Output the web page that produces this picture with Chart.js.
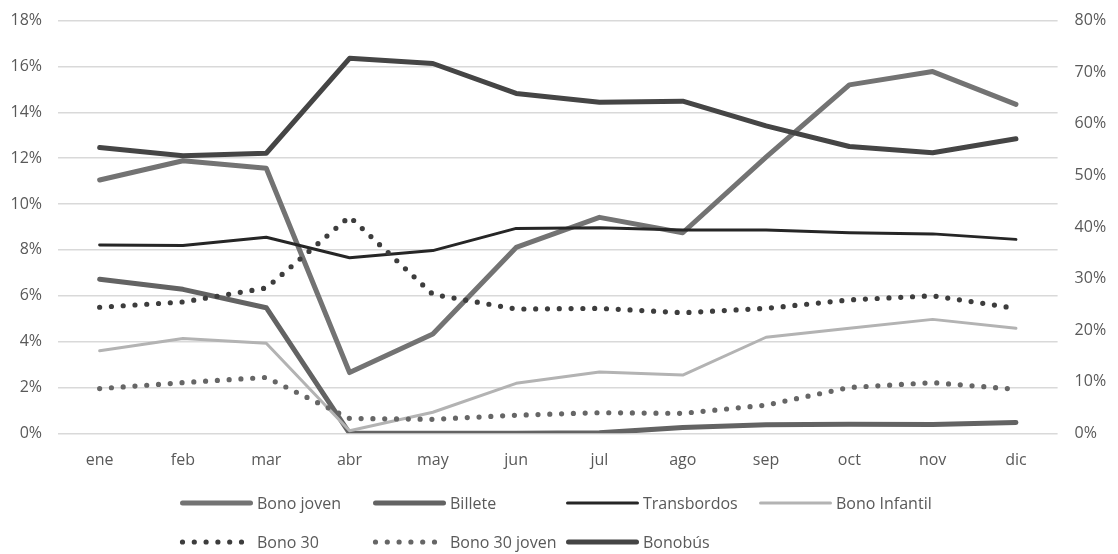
<!DOCTYPE html>
<html>
<head>
<meta charset="utf-8">
<script src="https://cdn.jsdelivr.net/npm/chart.js@4/dist/chart.umd.min.js"></script>
<style>
  html, body { margin: 0; padding: 0; background: #ffffff; }
  #wrap { position: relative; width: 1118px; height: 554px; }
</style>
</head>
<body>
<div id="wrap"><canvas id="chart" width="1118" height="554"></canvas></div>
<script>
// Monthly share of trips by ticket type (%)
const months = ['ene', 'feb', 'mar', 'abr', 'may', 'jun', 'jul', 'ago', 'sep', 'oct', 'nov', 'dic'];

// Left axis (0–18 %)
const bonoJoven    = [11.05, 11.89, 11.56, 2.65, 4.33, 8.11, 9.42, 8.75, 12.05, 15.20, 15.78, 14.35];
const billete      = [6.72, 6.28, 5.48, 0.0, 0.0, 0.0, 0.02, 0.25, 0.37, 0.40, 0.38, 0.47];
const transbordos  = [8.22, 8.19, 8.55, 7.66, 7.97, 8.94, 8.97, 8.87, 8.87, 8.75, 8.70, 8.46];
const bonoInfantil = [3.60, 4.14, 3.93, 0.11, 0.92, 2.18, 2.67, 2.54, 4.19, 4.58, 4.97, 4.58];
const bono30       = [5.50, 5.73, 6.34, 9.45, 6.06, 5.42, 5.45, 5.26, 5.45, 5.82, 6.00, 5.45];
const bono30Joven  = [1.95, 2.21, 2.44, 0.65, 0.61, 0.79, 0.90, 0.87, 1.23, 2.00, 2.21, 1.92];

// Right axis (0–80 %)
const bonobus      = [55.4, 53.8, 54.3, 72.7, 71.7, 65.9, 64.2, 64.4, 59.6, 55.6, 54.4, 57.1];

// Axis ranges
const leftMax = 18, leftStep = 2;
const rightMax = 80, rightStep = 10;

const TEXT = '#595959';
const FONT = '"Open Sans", "Liberation Sans", sans-serif';

function line(label, data, color, width, axis, dotted) {
  return {
    label, data,
    yAxisID: axis,
    borderColor: color,
    backgroundColor: color,
    borderWidth: width,
    borderDash: dotted ? [0, 11.8] : [],
    borderCapStyle: 'round',
    borderJoinStyle: 'round',
    pointRadius: 0,
    pointHoverRadius: 0,
    tension: 0,
    fill: false
  };
}

const datasets = [
  line('Bono joven',    bonoJoven,    '#737373', 5,   'y',  false),
  line('Billete',       billete,      '#636363', 5,   'y',  false),
  line('Transbordos',   transbordos,  '#262626', 3,   'y',  false),
  line('Bono Infantil', bonoInfantil, '#b3b3b3', 3,   'y',  false),
  line('Bono 30',       bono30,       '#3d3d3d', 5.2, 'y',  true),
  line('Bono 30 joven', bono30Joven,  '#666666', 5.2, 'y',  true),
  line('Bonobús',       bonobus,      '#454545', 5,   'y1', false)
];
// later series are painted on top
datasets.forEach((d, i) => { d.order = datasets.length - 1 - i; });

// Legend laid out as a 4-column grid under the plot
const gridLegend = {
  id: 'gridLegend',
  afterDraw(chart) {
    const ctx = chart.ctx;
    const left = 180, colW = 193, swatch = 73;
    const rows = [503, 542];
    ctx.save();
    ctx.font = '16px ' + FONT;
    ctx.fillStyle = TEXT;
    ctx.textBaseline = 'alphabetic';
    ctx.textAlign = 'left';
    chart.data.datasets.forEach((ds, i) => {
      const col = i % 4, row = Math.floor(i / 4);
      const x0 = left + col * colW;
      const y = rows[row];
      ctx.save();
      ctx.strokeStyle = ds.borderColor;
      ctx.lineWidth = ds.borderWidth;
      ctx.lineCap = 'round';
      ctx.setLineDash(ds.borderDash);
      ctx.beginPath();
      if (ds.borderDash.length) {
        ctx.moveTo(x0 + 2.5, y);
        ctx.lineTo(x0 + 63, y);
      } else {
        ctx.moveTo(x0 + ds.borderWidth / 2, y);
        ctx.lineTo(x0 + swatch - ds.borderWidth / 2, y);
      }
      ctx.stroke();
      ctx.restore();
      ctx.fillText(ds.label, x0 + swatch + 4, y + 6);
    });
    ctx.restore();
  }
};

function draw() {
  Chart.defaults.font.family = FONT;
  Chart.defaults.font.size = 16;
  Chart.defaults.color = TEXT;

  new Chart(document.getElementById('chart'), {
    type: 'line',
    data: { labels: months, datasets },
    options: {
      responsive: false,
      devicePixelRatio: 1,
      animation: false,
      layout: { padding: { top: 20.7, bottom: 80.7, left: 0, right: 0 } },
      plugins: { legend: { display: false }, tooltip: { enabled: false } },
      scales: {
        x: {
          type: 'category',
          offset: true,
          grid: { display: false },
          border: { display: false },
          ticks: { padding: 10, color: TEXT, maxRotation: 0 },
          afterFit(s) { s.height = 40; }
        },
        y: {
          position: 'left',
          min: 0, max: leftMax,
          ticks: { stepSize: leftStep, padding: 0, color: TEXT, callback: v => v + '%' },
          grid: { color: '#d9d9d9', lineWidth: 1.5, drawTicks: true, tickLength: 16, tickColor: 'rgba(0,0,0,0)' },
          border: { display: false },
          afterFit(s) { s.width = 58; }
        },
        y1: {
          position: 'right',
          min: 0, max: rightMax,
          ticks: { stepSize: rightStep, padding: 0, color: TEXT, callback: v => v + '%' },
          grid: { display: true, drawOnChartArea: false, drawTicks: true, tickLength: 17, tickColor: 'rgba(0,0,0,0)' },
          border: { display: false },
          afterFit(s) { s.width = 60.4; }
        }
      }
    },
    plugins: [gridLegend]
  });
}

if (document.fonts && document.fonts.load) {
  document.fonts.load('16px "Open Sans"').then(draw, draw);
} else {
  draw();
}
</script>
</body>
</html>
